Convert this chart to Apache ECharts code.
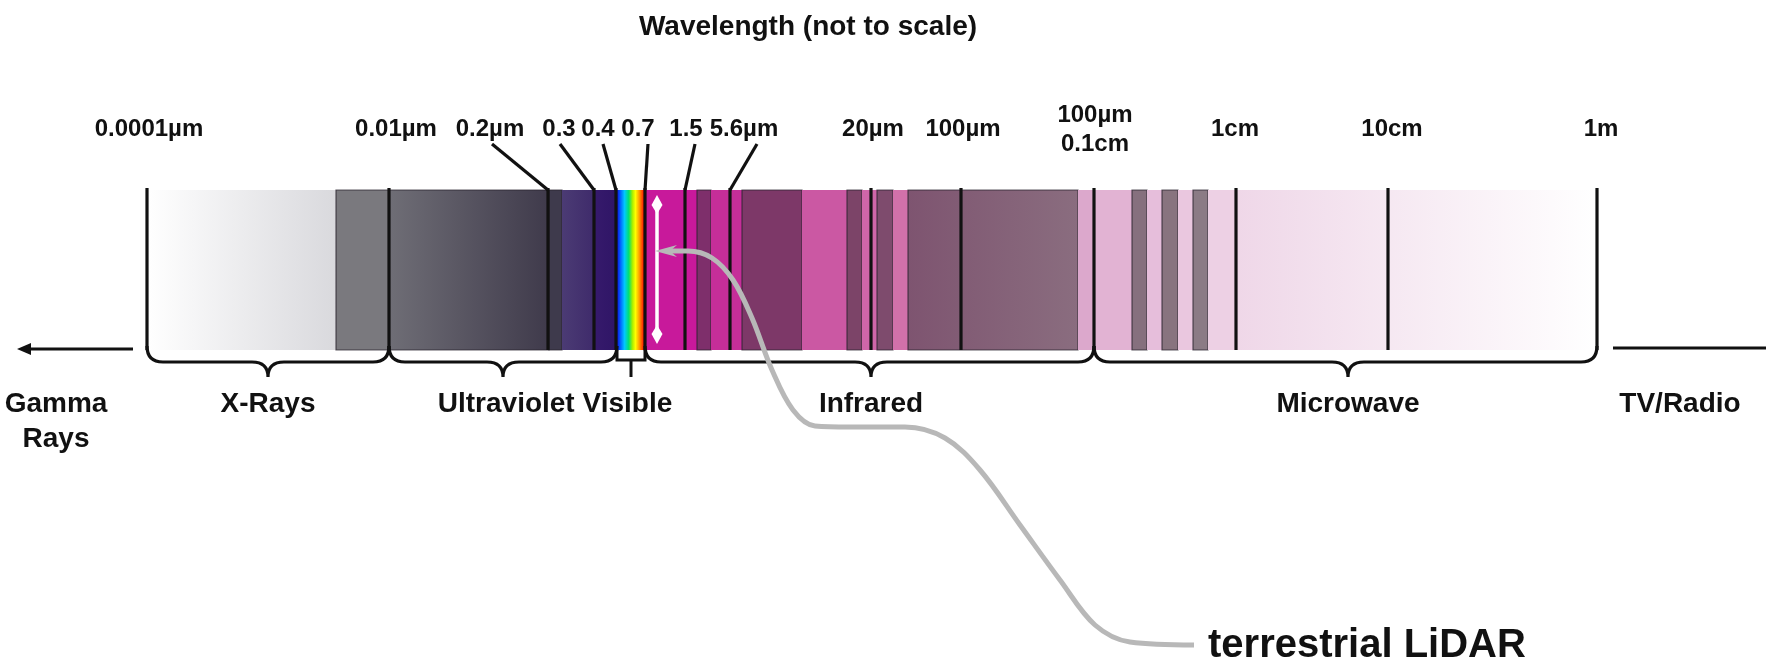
<!DOCTYPE html>
<html><head><meta charset="utf-8">
<script src="https://cdn.jsdelivr.net/npm/echarts@6/dist/echarts.min.js"></script>
<style>html,body{margin:0;padding:0;background:#fff}#c{width:1766px;height:668px}</style>
</head><body><div id="c"></div>
<script>
// ---- Diagram data (diagram units along a hidden value axis, x 0..1766, y 0..668 downward) ----
const stripTop = 190, stripBottom = 350;
const segStart = [147,336,389,549,562,594,617,645,697,711,742,802,847,862,877,893,908,1078,1094,1132,1147,1162,1178,1193,1208,1236];
const segEnd   = [336,389,549,562,594,617,645,697,711,742,802,847,862,877,893,908,1078,1094,1132,1147,1162,1178,1193,1208,1236,1597];
const segColorA = ['#ffffff','#7a797e','#6f6e76','#3e3a4c','#4b3b74','#361a6c','rainbow','#c8199b','#7e2f6b','#c52e99','#7d3868','#cb58a3','#7c4468','#cf66a9','#7e4b6d','#d171aa','#7e5470','#dca8cc','#e2b3d3','#86707e','#e6bedb','#88747f','#eac7df','#8b7b85','#edd0e4','#efd7e8'];
const segColorB = ['#d9d9dd','#7a797e','#3f3a4b','#3e3a4c','#3f2b6b','#2f1566','rainbow','#c8199b','#7e2f6b','#c52e99','#7d3868','#cb58a3','#7c4468','#cf66a9','#7e4b6d','#d171aa','#8a6d7f','#dca8cc','#e2b3d3','#86707e','#e6bedb','#88747f','#eac7df','#8b7b85','#edd0e4','#ffffff'];
const segBorder = [0,1,1,1,0,0,0,0,1,0,1,0,1,0,1,0,1,0,0,1,0,1,0,1,0,0];

const tickX = [147,389,548,594,616,645,685,730,871,961,1094,1236,1388,1597];

const topLabels = ['0.0001µm','0.01µm','0.2µm','0.3','0.4','0.7','1.5','5.6µm','20µm','100µm','100µm','0.1cm','1cm','10cm','1m'];
const topLabelX = [149,396,490,559,598,638,686,744,873,963,1095,1095,1235,1392,1601];
const topLabelY = [129,129,129,129,129,129,129,129,129,129,115,144,129,129,129];

const leaderTopX    = [492,560,603,648,695,757];
const leaderBottomX = [548,594,616,645,685,730];
const leaderTopY = 144;

const braceStart = [147,389,645,1094];
const braceEnd   = [389,617,1094,1597];
const braceTip   = [268,503,871,1348];
const visibleBracket = [617,645,631];

const regionNames = ['Gamma','Rays','X-Rays','Ultraviolet Visible','Infrared','Microwave','TV/Radio'];
const regionX = [56,56,268,555,871,1348,1680];
const regionY = [404,439,404,404,404,404,404];

const lidarX = [1194,1130,1095,1060,1020,980,945,905,850,815,793,772,752,733,712,688,668];
const lidarY = [645,642,625,580,525,470,438,427,427,426,410,370,318,280,258,251,251];
const lidarTip = [655,251];

const FONT = '"Liberation Sans", Arial, sans-serif';

const rainbow = new echarts.graphic.LinearGradient(0,0,1,0,[
  {offset:0,color:'#1010e0'},{offset:0.12,color:'#0060ff'},{offset:0.27,color:'#00c8ff'},
  {offset:0.42,color:'#00e070'},{offset:0.55,color:'#a8f000'},{offset:0.66,color:'#ffff00'},
  {offset:0.8,color:'#ff9a00'},{offset:0.95,color:'#ff1a00'},{offset:1,color:'#e0105a'}]);

function fillFor(i){
  if (segColorA[i] === 'rainbow') return rainbow;
  if (segColorA[i] === segColorB[i]) return segColorA[i];
  return new echarts.graphic.LinearGradient(0,0,1,0,[{offset:0,color:segColorA[i]},{offset:1,color:segColorB[i]}]);
}

const chart = echarts.init(document.getElementById('c'), null, {renderer:'canvas'});

const segData = segStart.map((s,i)=>[s, segEnd[i], i]);
const tickData = tickX.map(x=>[x, stripTop]);
const leaderData = leaderTopX.map((x,i)=>[x, leaderTopY, leaderBottomX[i], stripTop]);
const braceData = braceStart.map((s,i)=>[s, braceEnd[i], braceTip[i]]);
const topLabelData = topLabels.map((t,i)=>[topLabelX[i], topLabelY[i], i]);
const regionData = regionNames.map((t,i)=>[regionX[i], regionY[i], i]);
const lidarData = lidarX.map((x,i)=>[x, lidarY[i]]);

const option = {
  animation:false,
  backgroundColor:'#ffffff',
  grid:{left:0,right:0,top:0,bottom:0},
  xAxis:{type:'value',min:0,max:1766,show:false},
  yAxis:{type:'value',min:0,max:668,inverse:true,show:false},
  series:[
    { // spectrum segments
      type:'custom', data:segData, z:1,
      renderItem:(p,api)=>{
        const i = api.value(2);
        const a = api.coord([api.value(0), stripTop]);
        const b = api.coord([api.value(1), stripBottom]);
        return {type:'rect', shape:{x:a[0],y:a[1],width:b[0]-a[0],height:b[1]-a[1]},
          style:{fill:fillFor(i), stroke: segBorder[i] ? 'rgba(40,35,45,0.75)' : null, lineWidth: segBorder[i]?1.2:0}};
      }
    },
    { // tick lines through the strip
      type:'custom', data:tickData, z:3,
      renderItem:(p,api)=>{
        const a = api.coord([api.value(0), stripTop - 2]);
        const b = api.coord([api.value(0), stripBottom]);
        return {type:'line', shape:{x1:a[0],y1:a[1],x2:b[0],y2:b[1]}, style:{stroke:'#111',lineWidth:3.2}};
      }
    },
    { // leader lines
      type:'custom', data:leaderData, z:3,
      renderItem:(p,api)=>{
        const a = api.coord([api.value(0), api.value(1)]);
        const b = api.coord([api.value(2), api.value(3)]);
        return {type:'line', shape:{x1:a[0],y1:a[1],x2:b[0],y2:b[1]}, style:{stroke:'#111',lineWidth:3.2}};
      }
    },
    { // curly braces
      type:'custom', data:braceData, z:3,
      renderItem:(p,api)=>{
        const x0=api.value(0), x1=api.value(1), xm=api.value(2), r=16;
        const P=(x,y)=>api.coord([x,y]).join(' ');
        const yT=stripBottom-4, yM=362, yP=377;
        const d = 'M '+P(x0,yT)+' Q '+P(x0,yM)+' '+P(x0+r,yM)+' L '+P(xm-r,yM)+
          ' Q '+P(xm,yM)+' '+P(xm,yP)+' Q '+P(xm,yM)+' '+P(xm+r,yM)+
          ' L '+P(x1-r,yM)+' Q '+P(x1,yM)+' '+P(x1,yT);
        return {type:'path', shape:{pathData:d}, style:{fill:null,stroke:'#111',lineWidth:3.2}};
      }
    },
    { // visible bracket
      type:'custom', data:[visibleBracket], z:3,
      renderItem:(p,api)=>{
        const x0=api.value(0), x1=api.value(1), xm=api.value(2);
        const a=api.coord([x0,stripBottom]), b=api.coord([x0,360]), c=api.coord([x1,360]), d=api.coord([x1,stripBottom]);
        const s1=api.coord([xm,360]), s2=api.coord([xm,377]);
        return {type:'group', children:[
          {type:'polyline', shape:{points:[a,b,c,d]}, style:{fill:null,stroke:'#111',lineWidth:3}},
          {type:'line', shape:{x1:s1[0],y1:s1[1],x2:s2[0],y2:s2[1]}, style:{stroke:'#111',lineWidth:3}}
        ]};
      }
    },
    { // outer arrows (gamma side and radio side)
      type:'custom', data:[[133,17,349],[1613,1766,348]], z:3,
      renderItem:(p,api)=>{
        const a=api.coord([api.value(0),api.value(2)]), b=api.coord([api.value(1),api.value(2)]);
        const kids=[{type:'line', shape:{x1:a[0],y1:a[1],x2:b[0]+(p.dataIndex===0?10:0),y2:b[1]}, style:{stroke:'#111',lineWidth:3}}];
        if (p.dataIndex===0){
          kids.push({type:'polygon', shape:{points:[[b[0],b[1]],[b[0]+14,b[1]-6],[b[0]+14,b[1]+6]]}, style:{fill:'#111'}});
        }
        return {type:'group', children:kids};
      }
    },
    { // white double arrow (LiDAR band)
      type:'custom', data:[[657,195,344]], z:4,
      renderItem:(p,api)=>{
        const t=api.coord([api.value(0),api.value(1)]), b=api.coord([api.value(0),api.value(2)]);
        return {type:'group', children:[
          {type:'line', shape:{x1:t[0],y1:t[1]+4,x2:b[0],y2:b[1]-4}, style:{stroke:'#ffffff',lineWidth:3.5}},
          {type:'polygon', shape:{points:[[t[0],t[1]],[t[0]+5.5,t[1]+10],[t[0],t[1]+19],[t[0]-5.5,t[1]+10]]}, style:{fill:'#ffffff'}},
          {type:'polygon', shape:{points:[[b[0],b[1]],[b[0]+5.5,b[1]-10],[b[0],b[1]-19],[b[0]-5.5,b[1]-10]]}, style:{fill:'#ffffff'}}
        ]};
      }
    },
    { // LiDAR callout curve
      type:'line', data:lidarData, smooth:0.35, symbol:'none', z:5,
      lineStyle:{color:'#b8b8b8', width:5}
    },
    { // LiDAR arrow head
      type:'custom', data:[lidarTip], z:5,
      renderItem:(p,api)=>{
        const t=api.coord([api.value(0),api.value(1)]);
        return {type:'polygon', shape:{points:[[t[0],t[1]],[t[0]+22,t[1]-6],[t[0]+15,t[1]],[t[0]+22,t[1]+6]]}, style:{fill:'#b8b8b8'}};
      }
    },
    { // top wavelength labels
      type:'custom', data:topLabelData, z:6,
      renderItem:(p,api)=>{
        const c=api.coord([api.value(0),api.value(1)]);
        return {type:'text', x:c[0], y:c[1], style:{text:topLabels[api.value(2)], fontSize:24, fontWeight:'bold', fontFamily:FONT, fill:'#111', align:'center', verticalAlign:'middle'}};
      }
    },
    { // region labels
      type:'custom', data:regionData, z:6,
      renderItem:(p,api)=>{
        const c=api.coord([api.value(0),api.value(1)]);
        return {type:'text', x:c[0], y:c[1], style:{text:regionNames[api.value(2)], fontSize:28, fontWeight:'bold', fontFamily:FONT, fill:'#111', align:'center', verticalAlign:'middle'}};
      }
    },
    { // title and callout text
      type:'custom', data:[[808,27,0],[1208,646,1]], z:6,
      renderItem:(p,api)=>{
        const c=api.coord([api.value(0),api.value(1)]);
        const k=api.value(2);
        return {type:'text', x:c[0], y:c[1], style:{text: k===0?'Wavelength (not to scale)':'terrestrial LiDAR',
          fontSize: k===0?28:40, fontWeight:'bold', fontFamily:FONT, fill:'#111', align: k===0?'center':'left', verticalAlign:'middle'}};
      }
    }
  ]
};
chart.setOption(option);
</script>
</body></html>
